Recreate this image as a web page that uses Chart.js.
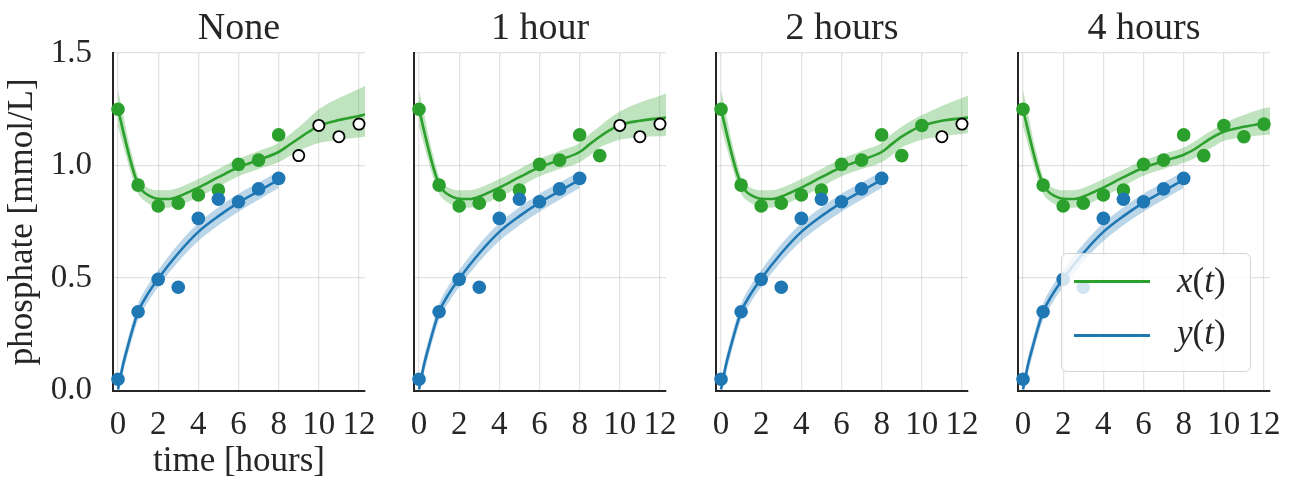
<!DOCTYPE html>
<html><head><meta charset="utf-8">
<script src="https://cdn.jsdelivr.net/npm/chart.js@4/dist/chart.umd.min.js"></script>
<style>
html,body{margin:0;padding:0;background:#fff;width:1293px;height:483px;overflow:hidden;}
.panel{position:absolute;top:0;height:483px;}
#legend{position:absolute;left:1061px;top:253px;width:190px;height:119px;box-sizing:border-box;border:1.5px solid #d4d4d4;border-radius:6px;background:rgba(255,255,255,0.8);font-family:'Liberation Serif',serif;color:#262626;z-index:5;}
.lg-line{position:absolute;left:12px;width:76px;height:3px;}
.lg-text{position:absolute;left:115px;font-size:35px;line-height:40px;white-space:nowrap;}
</style></head><body>
<div id="legend">
  <div class="lg-line" style="top:26px;background:#2ca02c"></div>
  <div class="lg-text" style="top:7px"><i>x</i>(<i>t</i>)</div>
  <div class="lg-line" style="top:80px;background:#1f77b4"></div>
  <div class="lg-text" style="top:59px"><i>y</i>(<i>t</i>)</div>
</div>
<script>
// ---------- data ----------
const panelTitles = ['None', '1 hour', '2 hours', '4 hours'];
const xTickVals = [0, 2, 4, 6, 8, 10, 12];
const yTickVals = [0, 0.5, 1.0, 1.5];

// observations
const obsTime = [0, 1, 2, 3, 4, 5, 6, 7, 8, 9, 10, 11, 12];
const xObs = [1.25, 0.913, 0.82, 0.832, 0.869, 0.891, 1.005, 1.024, 1.136, 1.044, 1.178, 1.128, 1.184];
const yObsTime = [0, 1, 2, 3, 4, 5, 6, 7, 8];
const yObs = [0.05, 0.35, 0.494, 0.459, 0.765, 0.85, 0.839, 0.896, 0.943];
// last time (hours) shown as a filled (used) observation in each panel
const lastUsedTime = [8, 9, 10, 12];

// fitted x(t) curves
const fitTimeX = [0, 0.25, 0.5, 0.75, 1, 1.25, 1.5, 2, 2.5, 3, 4, 5, 6, 7, 8, 8.5, 9, 9.5, 10, 11, 12, 12.3];
const xFitNone = [1.25, 1.155, 1.063, 0.98, 0.915, 0.885, 0.868, 0.852, 0.851, 0.862, 0.902, 0.948, 0.992, 1.025, 1.06, 1.09, 1.12, 1.15, 1.176, 1.202, 1.22, 1.227];
const xUpNone  = [1.335, 1.232, 1.12, 1.03, 0.95, 0.918, 0.9, 0.89, 0.89, 0.9, 0.94, 0.985, 1.03, 1.065, 1.10, 1.135, 1.17, 1.21, 1.25, 1.30, 1.34, 1.355];
const xLoNone  = [1.175, 1.09, 1.01, 0.935, 0.875, 0.848, 0.832, 0.812, 0.812, 0.822, 0.86, 0.905, 0.952, 0.985, 1.015, 1.04, 1.065, 1.085, 1.10, 1.115, 1.125, 1.128];

const xFit1h = [1.25, 1.155, 1.063, 0.98, 0.915, 0.885, 0.868, 0.852, 0.851, 0.862, 0.902, 0.948, 0.992, 1.025, 1.06, 1.095, 1.128, 1.157, 1.18, 1.199, 1.21, 1.213];
const xUp1h  = [1.335, 1.232, 1.12, 1.03, 0.95, 0.918, 0.9, 0.89, 0.89, 0.9, 0.94, 0.985, 1.03, 1.065, 1.10, 1.14, 1.175, 1.21, 1.24, 1.28, 1.31, 1.32];
const xLo1h  = [1.175, 1.09, 1.01, 0.935, 0.875, 0.848, 0.832, 0.812, 0.812, 0.822, 0.86, 0.905, 0.952, 0.985, 1.015, 1.045, 1.08, 1.10, 1.115, 1.125, 1.13, 1.13];

const xFit2h = [1.25, 1.155, 1.063, 0.98, 0.915, 0.885, 0.868, 0.852, 0.851, 0.862, 0.902, 0.948, 0.992, 1.025, 1.06, 1.095, 1.128, 1.155, 1.176, 1.199, 1.21, 1.213];
const xUp2h  = [1.335, 1.232, 1.12, 1.03, 0.95, 0.918, 0.9, 0.89, 0.89, 0.9, 0.94, 0.985, 1.03, 1.065, 1.10, 1.14, 1.172, 1.20, 1.224, 1.265, 1.30, 1.31];
const xLo2h  = [1.175, 1.09, 1.01, 0.935, 0.875, 0.848, 0.832, 0.812, 0.812, 0.822, 0.86, 0.905, 0.952, 0.985, 1.015, 1.045, 1.08, 1.10, 1.115, 1.13, 1.14, 1.143];

const xFit4h = [1.25, 1.155, 1.063, 0.98, 0.915, 0.885, 0.868, 0.852, 0.851, 0.862, 0.902, 0.948, 0.99, 1.02, 1.048, 1.07, 1.10, 1.128, 1.15, 1.172, 1.188, 1.192];
const xUp4h  = [1.335, 1.232, 1.12, 1.03, 0.95, 0.918, 0.9, 0.89, 0.89, 0.9, 0.94, 0.982, 1.022, 1.052, 1.08, 1.105, 1.135, 1.16, 1.188, 1.225, 1.254, 1.26];
const xLo4h  = [1.175, 1.09, 1.01, 0.935, 0.875, 0.848, 0.832, 0.812, 0.812, 0.822, 0.86, 0.908, 0.955, 0.985, 1.012, 1.03, 1.06, 1.085, 1.11, 1.125, 1.136, 1.138];

// fitted y(t) curve (same in every panel)
const fitTimeY = [0, 0.25, 0.5, 0.75, 1, 1.5, 2, 3, 4, 5, 6, 7, 8];
const yFit = [0.005, 0.115, 0.2, 0.28, 0.35, 0.432, 0.497, 0.61, 0.705, 0.775, 0.835, 0.886, 0.937];
const yUp  = [0.03, 0.15, 0.235, 0.315, 0.385, 0.47, 0.535, 0.65, 0.745, 0.815, 0.875, 0.925, 0.975];
const yLo  = [0.0, 0.08, 0.165, 0.245, 0.315, 0.395, 0.46, 0.572, 0.665, 0.735, 0.795, 0.848, 0.9];

const xFits = [xFitNone, xFit1h, xFit2h, xFit4h];
const xUps = [xUpNone, xUp1h, xUp2h, xUp4h];
const xLos = [xLoNone, xLo1h, xLo2h, xLo4h];

// ---------- style / layout ----------
const GREEN = '#2ca02c', BLUE = '#1f77b4', INK = '#262626', GRID = 'rgba(0,0,0,0.11)';
const SERIF = "'Liberation Serif', 'DejaVu Serif', serif";
const areaLefts = [113, 414, 716, 1018];
const AREA_W = 252, PAD_R = 16, X_AXIS_H = 92.5;

function pts(xs, ys) { return xs.map((x, i) => ({ x: x, y: ys[i] })); }

for (let p = 0; p < 4; p++) {
  const yw = p === 0 ? 113 : 14;
  const cw = yw + AREA_W + PAD_R;
  const div = document.createElement('div');
  div.className = 'panel';
  div.style.left = (areaLefts[p] - yw) + 'px';
  div.style.width = cw + 'px';
  const cv = document.createElement('canvas');
  cv.width = cw; cv.height = 483;
  cv.style.width = cw + 'px'; cv.style.height = '483px';
  div.appendChild(cv);
  document.body.appendChild(div);

  const filledT = obsTime.filter(t => t <= lastUsedTime[p]);
  const filledV = xObs.filter((v, i) => obsTime[i] <= lastUsedTime[p]);
  const openT = obsTime.filter(t => t > lastUsedTime[p]);
  const openV = xObs.filter((v, i) => obsTime[i] > lastUsedTime[p]);

  const bandCommon = { borderWidth: 0, pointRadius: 0, cubicInterpolationMode: 'monotone', order: 3 };
  const datasets = [
    Object.assign({ data: pts(fitTimeX, xUps[p]), fill: '+1', backgroundColor: 'rgba(44,160,44,0.3)', borderColor: 'rgba(0,0,0,0)' }, bandCommon),
    Object.assign({ data: pts(fitTimeX, xLos[p]), fill: false, borderColor: 'rgba(0,0,0,0)' }, bandCommon),
    Object.assign({ data: pts(fitTimeY, yUp), fill: '+1', backgroundColor: 'rgba(31,119,180,0.3)', borderColor: 'rgba(0,0,0,0)' }, bandCommon),
    Object.assign({ data: pts(fitTimeY, yLo), fill: false, borderColor: 'rgba(0,0,0,0)' }, bandCommon),
    { data: pts(fitTimeX, xFits[p]), borderColor: GREEN, borderWidth: 2.6, pointRadius: 0, fill: false, cubicInterpolationMode: 'monotone', order: 2 },
    { data: pts(fitTimeY, yFit), borderColor: BLUE, borderWidth: 2.6, pointRadius: 0, fill: false, cubicInterpolationMode: 'monotone', order: 2 },
    { data: pts(filledT, filledV), showLine: false, pointRadius: 6.8, pointBorderWidth: 0, pointBackgroundColor: GREEN, pointBorderColor: GREEN, clip: false, order: 1 },
    { data: pts(openT, openV), showLine: false, pointRadius: 5.6, pointBorderWidth: 1.8, pointBackgroundColor: '#ffffff', pointBorderColor: '#000000', clip: false, order: 1 },
    { data: pts(yObsTime, yObs), showLine: false, pointRadius: 6.8, pointBorderWidth: 0, pointBackgroundColor: BLUE, pointBorderColor: BLUE, clip: false, order: 0 }
  ];

  new Chart(cv, {
    type: 'line',
    data: { datasets: datasets },
    options: {
      responsive: false, animation: false, devicePixelRatio: 1,
      layout: { padding: { left: 0, right: PAD_R, top: 0, bottom: 0 } },
      plugins: {
        legend: { display: false }, tooltip: { enabled: false },
        title: { display: true, text: panelTitles[p], fullSize: false, color: INK,
                 font: { family: SERIF, size: 38, weight: 'normal', lineHeight: 1.2 }, padding: { top: 6, bottom: 1.4 } }
      },
      scales: {
        x: {
          type: 'linear', min: -0.25, max: 12.3,
          afterBuildTicks: s => { s.ticks = xTickVals.map(v => ({ value: v })); },
          afterFit: s => { s.height = X_AXIS_H; s.paddingLeft = 0; s.paddingRight = 0; },
          ticks: { color: INK, font: { family: SERIF, size: 33 }, padding: 15, maxRotation: 0, autoSkip: false, callback: v => String(v) },
          grid: { color: GRID, lineWidth: 1.3, drawTicks: false },
          border: { color: INK, width: 2 },
          title: { display: p === 0, text: 'time [hours]', color: INK, font: { family: SERIF, size: 35 }, padding: { top: 0, bottom: 0 } }
        },
        y: {
          type: 'linear', min: 0, max: 1.5,
          afterBuildTicks: s => { s.ticks = yTickVals.map(v => ({ value: v })); },
          afterFit: s => { s.width = yw; s.paddingTop = 0; s.paddingBottom = 0; },
          ticks: { display: p === 0, color: INK, font: { family: SERIF, size: 33 }, padding: 21, callback: v => v.toFixed(1) },
          grid: { color: GRID, lineWidth: 1.3, drawTicks: false },
          border: { color: INK, width: 2 },
          title: { display: p === 0, text: 'phosphate [mmol/L]', color: INK, font: { family: SERIF, size: 35 }, padding: { top: 2, bottom: 0 } }
        }
      }
    }
  });
}
</script>
</body></html>
